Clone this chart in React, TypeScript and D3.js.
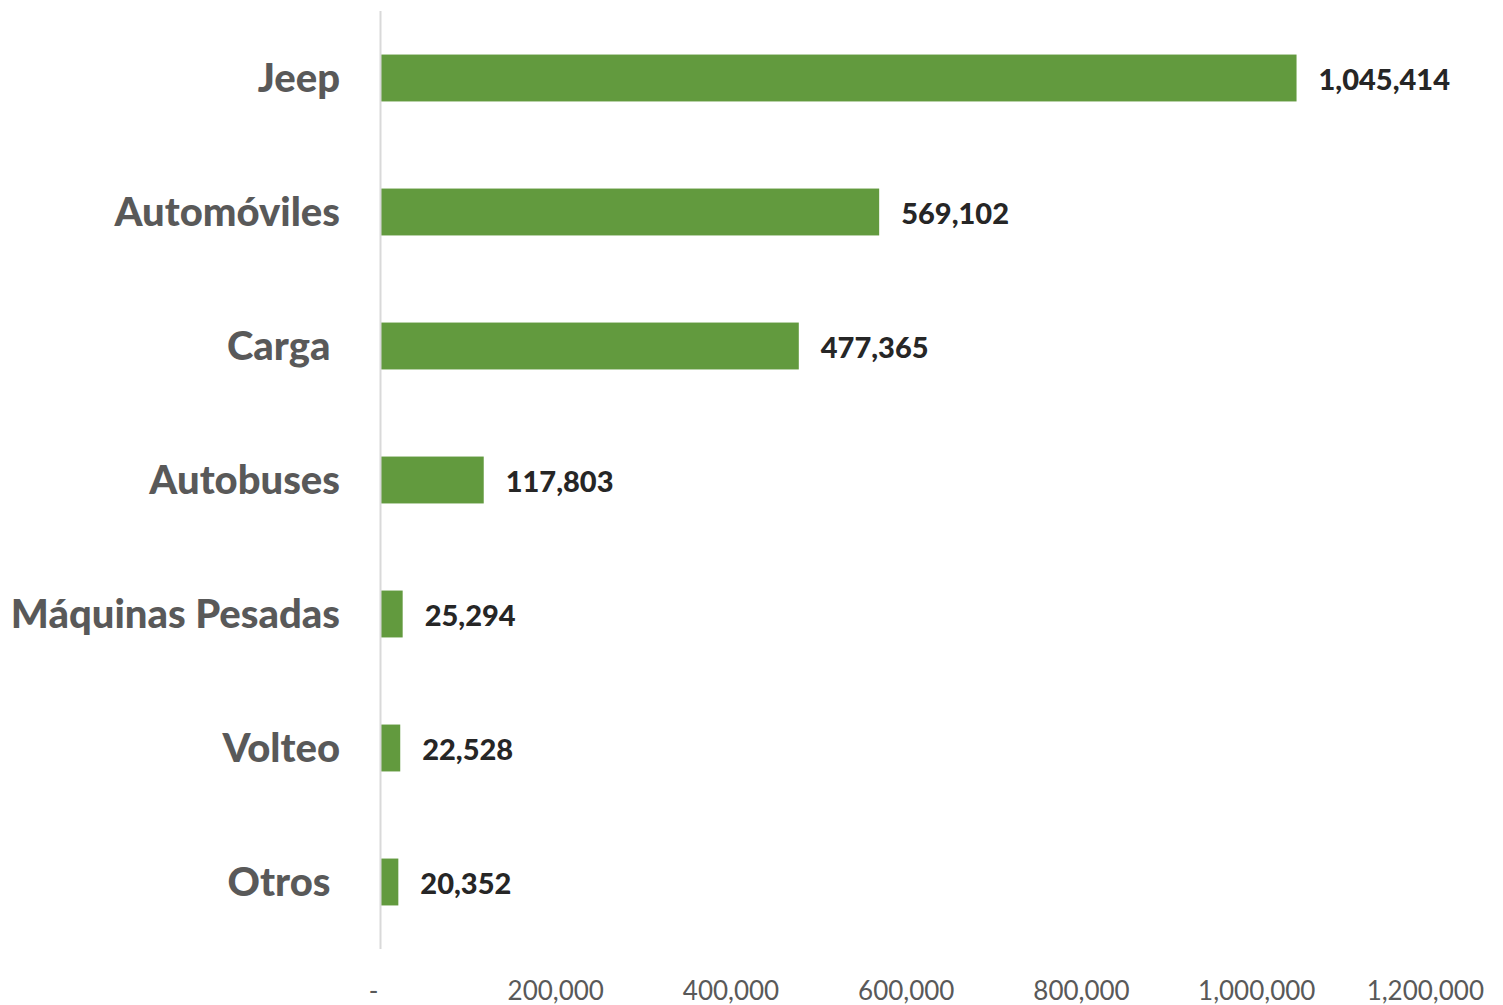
import React, { useEffect, useRef } from "react";
import * as d3 from "d3";

const categories = ["Jeep", "Automóviles", "Carga ", "Autobuses", "Máquinas Pesadas", "Volteo", "Otros "];
const values = [1045414, 569102, 477365, 117803, 25294, 22528, 20352];
const ticks = [0, 200000, 400000, 600000, 800000, 1000000, 1200000];

const App: React.FC = () => {
  const ref = useRef<SVGSVGElement>(null);

  useEffect(() => {
    const width = 1503;
    const height = 1005;
    const font = "Lato, 'Open Sans', sans-serif";

    const x = d3.scaleLinear().domain([0, 1200000]).range([380.5, 1432]);
    const y = d3
      .scaleBand()
      .domain(categories)
      .range([11, 949])
      .paddingInner(0.65)
      .paddingOuter(0.325);

    const svg = d3.select(ref.current);
    svg.selectAll("*").remove();
    svg.attr("width", width).attr("height", height);

    const data = categories.map((c, i) => ({ name: c, value: values[i] }));

    // Bars
    svg
      .append("g")
      .selectAll("rect")
      .data(data)
      .enter()
      .append("rect")
      .attr("x", x(0))
      .attr("y", (d) => y(d.name)!)
      .attr("width", (d) => x(d.value) - x(0))
      .attr("height", y.bandwidth())
      .attr("fill", "#629a3e");

    // Vertical axis line
    svg
      .append("line")
      .attr("x1", x(0))
      .attr("x2", x(0))
      .attr("y1", 11)
      .attr("y2", 949)
      .attr("stroke", "#d9d9d9")
      .attr("stroke-width", 2);

    // Category labels
    svg
      .append("g")
      .selectAll("text")
      .data(data)
      .enter()
      .append("text")
      .attr("x", 340)
      .attr("y", (d) => y(d.name)! + y.bandwidth() / 2)
      .attr("dy", "0.36em")
      .attr("text-anchor", "end")
      .style("white-space", "pre")
      .style("font-family", font)
      .style("font-weight", 900)
      .style("font-size", "40px")
      .attr("fill", "#595959")
      .text((d) => d.name);

    // Value labels
    svg
      .append("g")
      .selectAll("text")
      .data(data)
      .enter()
      .append("text")
      .attr("x", (d) => x(d.value) + 22)
      .attr("y", (d) => y(d.name)! + y.bandwidth() / 2)
      .attr("dy", "0.4em")
      .style("font-family", font)
      .style("font-weight", 900)
      .style("font-size", "29px")
      .attr("fill", "#262626")
      .text((d) => d3.format(",")(d.value));

    // X tick labels (last one is pulled inside the chart edge)
    const last = ticks[ticks.length - 1];
    svg
      .append("g")
      .selectAll("text")
      .data(ticks)
      .enter()
      .append("text")
      .attr("x", (d) => (d === 0 ? x(0) - 7 : d === last ? 1484 : x(d)))
      .attr("y", 1000)
      .attr("text-anchor", (d) => (d === last ? "end" : "middle"))
      .style("font-family", font)
      .style("font-size", "26px")
      .attr("fill", "#595959")
      .text((d) => (d === 0 ? "-" : d3.format(",")(d)));
  }, []);

  return (
    <div style={{ position: "absolute", left: 0, top: 0, background: "#fff" }}>
      <svg ref={ref}></svg>
    </div>
  );
};

export default App;
